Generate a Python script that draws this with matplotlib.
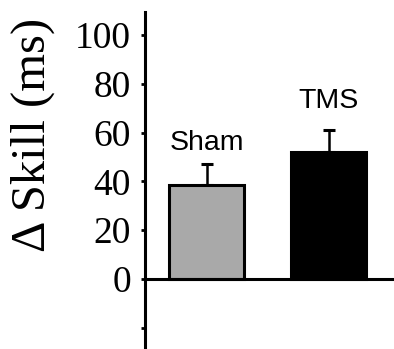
import matplotlib
matplotlib.use("Agg")
import matplotlib.pyplot as plt

categories = ["Sham", "TMS"]
values = [38.5, 52.0]
errors = [8.5, 9.0]
colors = ["#a9a9a9", "#000000"]
yticks = [-20, 0, 20, 40, 60, 80, 100]
yticklabels = ["", "0", "20", "40", "60", "80", "100"]

fig = plt.figure(figsize=(3.94, 3.49), dpi=100)
ax = fig.add_axes([145/394, 0, 1 - 145/394, 337/349])

x = list(range(len(categories)))
ax.bar(x, values, width=0.615, color=colors, edgecolor="black", linewidth=2.2, zorder=2)
ax.errorbar(x, values, yerr=[[0]*len(values), errors], fmt="none", ecolor="black",
            elinewidth=1.8, capsize=4, capthick=2.2, zorder=1)

label_y = [52.9, 70.1]
for xi, lab, ly in zip(x, categories, label_y):
    ax.text(xi, ly, lab, ha="center", va="baseline", fontsize=20.5,
            family=["Liberation Sans", "DejaVu Sans"])

ax.set_xlim(-0.508, 1.533)
ax.set_ylim(-28.7, 109.4)

for s in ["top", "right"]:
    ax.spines[s].set_visible(False)
ax.spines["bottom"].set_position(("data", 0))
ax.spines["bottom"].set_linewidth(2.2)
ax.spines["left"].set_linewidth(2.2)
ax.spines["bottom"].set_zorder(3)
ax.set_xticks([])
ax.set_yticks(yticks)
ax.set_yticklabels(yticklabels, fontsize=27, family="Liberation Serif")
ax.tick_params(axis="y", direction="out", length=3, width=2, pad=7)

ax.set_ylabel("Δ Skill (ms)", fontsize=35, family="Liberation Serif")
ax.yaxis.set_label_coords(-0.361, 0.636)

fig.savefig("out.png", dpi=100)
